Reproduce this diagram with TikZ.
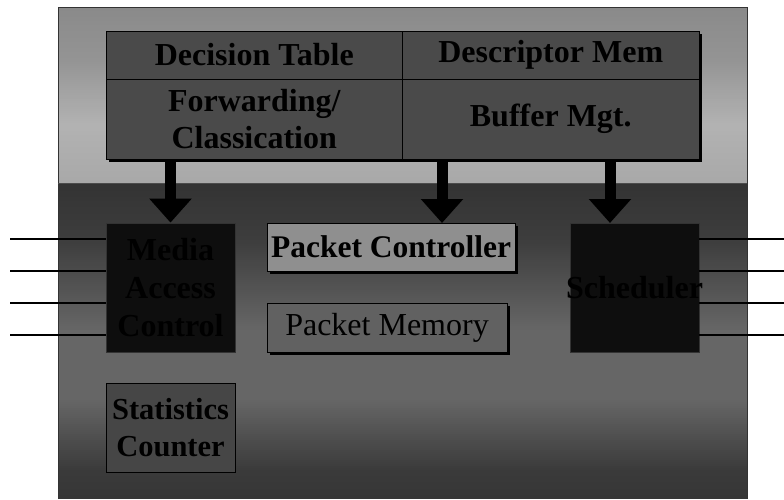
\documentclass[tikz,border=0pt]{standalone}
\usepackage{fontspec}
\setmainfont{Liberation Serif}
\usetikzlibrary{arrows.meta,shadows,calc}
\definecolor{cellfill}{gray}{0.29}
\definecolor{pcfill}{gray}{0.56}
\definecolor{pmfill}{gray}{0.38}
\definecolor{darkfill}{gray}{0.055}
\definecolor{statfill}{gray}{0.275}
\begin{document}
\begin{tikzpicture}[x=1pt,y=-1pt,
  cell/.style={draw=black,line width=0.8pt,fill=cellfill,inner sep=0pt,align=center,
    font=\fontsize{32}{37}\selectfont\bfseries},
  shadowed/.style={drop shadow={shadow xshift=3pt,shadow yshift=-3pt,fill=black,opacity=1}},
  darkbox/.style={draw=black!80,line width=0.8pt,fill=darkfill,inner sep=0pt,align=center,
    minimum width=129pt,minimum height=129pt,text=black,
    font=\fontsize{32}{38}\selectfont\bfseries},
  blockarrow/.style={line width=11pt,-{Triangle[length=24pt,width=41pt]}},
  wire/.style={line width=2.4pt}]
\useasboundingbox (0,0) rectangle (784,499);
\fill[white] (0,0) rectangle (784,499);
% background panels drawn as thin bands (vertical gradient)
\foreach \ya/\ca/\yb/\cb in {7/0.54/60/0.58, 60/0.58/125/0.70, 125/0.70/183/0.66,
    183/0.20/240/0.24, 240/0.24/330/0.40, 330/0.40/400/0.40, 400/0.40/470/0.23, 470/0.23/499/0.21}{
  \pgfmathsetmacro\n{int((\yb-\ya)/2)}
  \pgfmathsetmacro\h{(\yb-\ya)/\n}
  \foreach \k in {1,...,\n}{
    \pgfmathsetmacro\yy{\ya+\h*(\k-1)}
    \pgfmathsetmacro\yz{\yy+\h+0.3}
    \pgfmathsetmacro\cc{\ca+(\cb-\ca)*(\k-0.5)/\n}
    \definecolor{stripc}{gray}{\cc}
    \fill[stripc] (58,\yy) rectangle (747,\yz);
  }
}
\fill[white] (0,499) rectangle (784,502);
\draw[line width=0.8pt,black!80] (58,499) -- (58,7) -- (747,7) -- (747,499);
\draw[line width=0.8pt,black!70] (58,183) -- (747,183);
% table cells
\node[cell,shadowed,minimum width=296.5pt,minimum height=48pt] (dt) at (254.25,55) {Decision Table};
\node[cell,shadowed,minimum width=296.5pt,minimum height=48pt] (dm) at (550.75,55) {Descriptor Mem};
\node[cell,shadowed,minimum width=296.5pt,minimum height=80pt] (fc) at (254.25,119) {Forwarding/\\Classication};
\node[cell,shadowed,minimum width=296.5pt,minimum height=80pt] (bm) at (550.75,119) {Buffer Mgt.};
% lower blocks
\node[darkbox] (mac) at (170.5,287.5) {Media\\Access\\Control};
\node[darkbox] (sch) at (634.5,287.5) {\makebox[0pt]{Scheduler}};
\node[draw=black,line width=0.8pt,fill=pcfill,shadowed,inner sep=0pt,
  minimum width=248pt,minimum height=48pt,font=\fontsize{31.5}{36}\selectfont\bfseries]
  (pc) at (391,247) {Packet Controller};
\node[draw=black,line width=0.8pt,fill=pmfill,shadowed,inner sep=0pt,
  minimum width=240pt,minimum height=49pt,font=\fontsize{32}{36}\selectfont]
  (pm) at (387,327.5) {Packet Memory};
\node[draw=black,line width=0.8pt,fill=statfill,inner sep=0pt,align=center,
  minimum width=129pt,minimum height=89pt,font=\fontsize{30.5}{37}\selectfont\bfseries]
  (st) at (170.5,427.5) {Statistics\\Counter};
% arrows
\coordinate (pcin) at (442,223);
\coordinate (schin) at (610,223);
\draw[blockarrow] (fc.south -| mac.north) -- (mac.north);
\draw[blockarrow] (bm.south -| pcin) -- (pcin);
\draw[blockarrow] (bm.south -| schin) -- (schin);
% wires
\foreach \i/\yy in {1/239,2/271,3/303,4/335}{
  \coordinate (l\i) at (10,\yy);
  \coordinate (r\i) at (784,\yy);
  \draw[wire] (l\i) -- (l\i -| mac.west);
  \draw[wire] (sch.east |- r\i) -- (r\i);
}
\end{tikzpicture}
\end{document}
